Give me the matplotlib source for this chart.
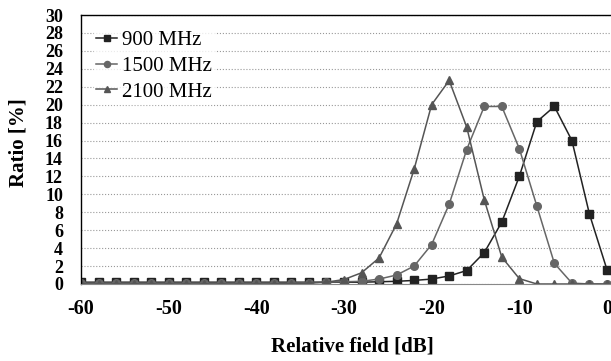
import matplotlib.pyplot as plt
import numpy as np

# Relative field [dB], every 2 dB from -60 to 0
field = np.arange(-60, 1, 2)

# Ratio [%] (31 values each, -60 ... 0 dB)
r900 = [0.2, 0.2, 0.2, 0.2, 0.2, 0.2, 0.2, 0.2, 0.2, 0.2,
        0.2, 0.2, 0.2, 0.2, 0.2, 0.2, 0.2, 0.25, 0.3, 0.4,
        0.55, 0.9, 1.5, 3.5, 6.9, 12.0, 18.1, 19.8, 16.0, 7.8,
        1.6]
r1500 = [0.1, 0.1, 0.1, 0.1, 0.1, 0.1, 0.1, 0.1, 0.1, 0.1,
         0.1, 0.1, 0.1, 0.15, 0.2, 0.25, 0.3, 0.55, 1.0, 2.0,
         4.4, 8.9, 15.0, 19.8, 19.8, 15.1, 8.7, 2.3, 0.1, 0.0,
         0.0]
r2100 = [0.0, 0.0, 0.0, 0.0, 0.0, 0.0, 0.0, 0.0, 0.0, 0.0,
         0.0, 0.0, 0.05, 0.1, 0.2, 0.5, 1.25, 2.9, 6.7, 12.8,
         20.0, 22.7, 17.5, 9.4, 3.0, 0.6, 0.0, 0.0, 0.0, 0.0,
         0.0]

yticks = np.arange(0, 31, 2)
xticks = [-60, -50, -40, -30, -20, -10, 0]

plt.rcParams['font.family'] = ['Liberation Serif', 'DejaVu Serif']

fig = plt.figure(figsize=(6.11, 3.61), dpi=100)
ax = fig.add_axes([81/611, 1 - 284/361, 1 - 81/611, 269/361])

ax.plot(field, r900, color='#222222', marker='s', markersize=5.5, linewidth=1.1, label='900 MHz')
ax.plot(field, r1500, color='#666666', marker='o', markersize=5.5, linewidth=1.1, label='1500 MHz')
ax.plot(field, r2100, color='#555555', marker='^', markersize=5.5, linewidth=1.1, label='2100 MHz')

ax.set_xlim(-60, 0.46)
ax.set_ylim(0, 30)
ax.set_yticks(yticks)
ax.set_xticks(xticks)
ax.set_yticklabels([str(v) for v in yticks], fontsize=13, fontweight='bold')
ax.set_xticklabels([str(v) for v in xticks], fontsize=14.5, fontweight='bold')
ax.tick_params(length=0)
ax.tick_params(axis='y', pad=13)
ax.tick_params(axis='x', pad=11)
ax.grid(axis='y', color='#999999', linestyle=':', linewidth=0.8)
ax.set_axisbelow(True)

for s in ['left', 'top']:
    ax.spines[s].set_color('black')
    ax.spines[s].set_linewidth(1.0)
ax.spines['bottom'].set_color('#888888')
ax.spines['right'].set_visible(False)

ax.set_xlabel('Relative field [dB]', fontsize=15, fontweight='bold')
ax.set_ylabel('Ratio [%]', fontsize=15, fontweight='bold')
ax.xaxis.set_label_coords(0.512, -0.234)
ax.yaxis.set_label_coords(-0.117, 0.524)
ax.xaxis.label.set_va('center')
ax.yaxis.label.set_va('center')

leg = ax.legend(loc='upper left', bbox_to_anchor=(0.025, 0.95), frameon=True, fontsize=15,
                handlelength=1.0, handletextpad=0.25, labelspacing=0.3, borderpad=0.1,
                borderaxespad=0, markerscale=0.8)
leg.get_frame().set_facecolor('white')
leg.get_frame().set_edgecolor('white')

fig.savefig('out.png', dpi=100)
